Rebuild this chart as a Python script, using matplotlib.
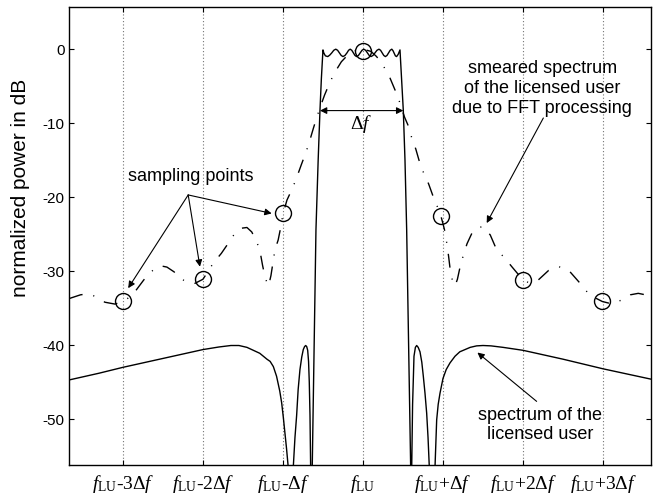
import matplotlib
matplotlib.use("Agg")
import matplotlib.pyplot as plt

# x in units of delta f around f_LU, y in dB
tick_pos = [-3, -2, -1, 0, 1, 2, 3]
tick_labels = [r"$f_{\mathrm{LU}}$-3Δ$f$", r"$f_{\mathrm{LU}}$-2Δ$f$",
               r"$f_{\mathrm{LU}}$-Δ$f$", r"$f_{\mathrm{LU}}$",
               r"$f_{\mathrm{LU}}$+Δ$f$", r"$f_{\mathrm{LU}}$+2Δ$f$",
               r"$f_{\mathrm{LU}}$+3Δ$f$"]
y_ticks = [0, -10, -20, -30, -40, -50]

# spectrum of the licensed user (solid)
lu_pos = [-3.67, -3.3, -3.0, -2.5, -2.0, -1.8, -1.65, -1.55, -1.45, -1.35,
          -1.29, -1.2, -1.16, -1.12, -1.08, -1.04, -1.016, -0.995, -0.975,
          -0.955, -0.934, -0.91, -0.9, -0.88, -0.871, -0.85, -0.829, -0.81,
          -0.7875, -0.765, -0.746, -0.73, -0.716, -0.703, -0.691, -0.68,
          -0.671, -0.662, -0.654, -0.645, -0.634, -0.61, -0.5875, -0.56,
          -0.5375, -0.52, -0.5,
          -0.49, -0.47, -0.44, -0.415, -0.39, -0.365, -0.34, -0.317, -0.295,
          -0.272, -0.25, -0.225, -0.2, -0.18, -0.16, -0.14, -0.12, -0.1,
          -0.08, -0.057, -0.035, -0.012, 0.01, 0.033, 0.055, 0.078, 0.1,
          0.125, 0.15, 0.175, 0.2, 0.22, 0.24, 0.26, 0.28, 0.3, 0.32, 0.34,
          0.36, 0.375, 0.39, 0.405, 0.42, 0.44, 0.455, 0.4625,
          0.48, 0.504, 0.525, 0.546, 0.57, 0.596, 0.603, 0.609, 0.62, 0.6375,
          0.655, 0.671, 0.69, 0.7125, 0.735, 0.754, 0.775, 0.796, 0.813,
          0.829, 0.85, 0.865, 0.885, 0.9, 0.921, 0.94, 0.9625, 1.0, 1.04,
          1.0875, 1.15, 1.21, 1.34, 1.42, 1.5, 1.6, 1.75, 2.0, 2.5, 3.0, 3.6]
lu_db = [-44.7, -43.8, -43.0, -41.8, -40.6, -40.25, -40.05, -40.05, -40.3,
         -40.8, -41.1, -41.9, -42.2, -42.9, -44.2, -46.2, -47.8, -49.8, -51.9,
         -54.0, -56.5, -62.0, -80.0, -60.0, -56.5, -52.5, -49.5, -46.0,
         -43.3, -41.6, -40.6, -40.2, -40.05, -40.2, -40.7, -42.2,
         -45.0, -49.5, -56.5, -80.0, -56.5, -40.0, -24.4, -15.0,
         -8.3, -4.0, -0.1,
         -0.5, -0.9, -1.0, -0.8, -0.5, -0.15, 0.0, -0.15, -0.5,
         -0.85, -1.0, -0.85, -0.5, -0.15, 0.0, -0.15, -0.5, -0.85,
         -1.0, -0.85, -0.5, -0.15, 0.0, -0.15, -0.5, -0.85, -1.0,
         -0.85, -0.5, -0.15, 0.0, -0.15, -0.5, -0.85, -1.0, -0.85, -0.5, -0.15,
         0.0, -0.2, -0.55, -0.9, -1.0, -0.7, -0.3, -0.1,
         -3.5, -8.3, -15.0, -24.4, -40.0, -56.5, -80.0, -56.5, -48.0, -41.5,
         -40.3, -40.05, -40.3, -40.9, -42.3, -44.2, -46.5, -49.2, -52.5,
         -56.5, -65.0, -80.0, -62.0, -56.5, -50.1, -48.0, -46.5, -44.5, -43.3,
         -42.4, -41.5, -40.9, -40.3, -40.1, -40.05, -40.1, -40.3, -40.7,
         -41.9, -43.2, -44.6]

# smeared spectrum after FFT processing (dash-dot)
fft_pos = [-3.67, -3.53, -3.43, -3.35, -3.225, -3.1, -3.0, -2.9, -2.83,
           -2.74, -2.66, -2.58, -2.52, -2.45, -2.36, -2.29, -2.2, -2.1, -2.0,
           -1.94, -1.87, -1.77, -1.7, -1.64, -1.58, -1.52, -1.45, -1.39,
           -1.33, -1.29, -1.255, -1.22, -1.18, -1.15, -1.12, -1.1, -1.06,
           -1.03, -1.0, -0.95, -0.89, -0.84, -0.77, -0.725, -0.68, -0.62,
           -0.58, -0.54, -0.48, -0.41, -0.35, -0.27, -0.2, -0.1, 0.0,
           0.1, 0.17, 0.246, 0.33, 0.4, 0.45, 0.52, 0.56, 0.61, 0.66, 0.7,
           0.76, 0.82, 0.87, 0.93, 0.975, 1.0, 1.03, 1.07, 1.09, 1.12, 1.15,
           1.18, 1.21, 1.25, 1.3, 1.36, 1.43, 1.5, 1.59, 1.67, 1.77, 1.86,
           2.0, 2.08, 2.19, 2.32, 2.45, 2.58, 2.71, 2.8, 2.9, 2.99, 3.1, 3.21,
           3.34, 3.44, 3.53, 3.6]
fft_db = [-33.7, -33.2, -33.05, -33.4, -34.2, -34.45, -34.1, -33.4, -32.5,
          -31.2, -30.2, -29.5, -29.3, -29.45, -30.1, -30.9, -31.5, -31.65,
          -31.1, -30.1, -28.9, -27.6, -26.5, -25.5, -24.6, -24.2, -24.1,
          -24.7, -26.0, -27.1, -29.2, -31.0, -32.0, -30.6, -28.5, -27.1,
          -25.8, -24.2, -22.3, -20.4, -19.0, -17.7, -15.6, -14.3, -12.9,
          -10.7, -9.3, -8.0, -6.2, -4.4, -3.1, -1.7, -0.9, -0.25, 0.0,
          -0.3, -1.0, -2.1, -3.7, -5.5, -6.9, -9.2, -10.2, -12.0, -13.5,
          -15.0, -16.8, -18.2, -19.7, -21.3, -22.6, -23.6, -24.9, -28.0,
          -29.8, -31.4, -32.0, -31.1, -29.6, -28.0, -26.3, -24.9, -24.1,
          -24.0, -25.1, -27.1, -28.2, -29.4, -31.2, -31.6, -31.2, -29.9,
          -29.4, -30.0, -31.6, -32.8, -33.6, -34.1, -34.4, -34.0, -33.2,
          -33.0, -33.2, -33.5]

# sampling points of the FFT
sample_pos = [-2.996, -1.996, -1.004, 0.0, 0.975, 2.0, 2.99]
sample_db = [-34.1, -31.1, -22.2, -0.3, -22.6, -31.2, -34.1]


def main():
    plt.rcParams["axes.unicode_minus"] = False
    plt.rcParams["font.family"] = ["Liberation Sans", "DejaVu Sans"]
    plt.rcParams["mathtext.fontset"] = "custom"
    plt.rcParams["mathtext.rm"] = "Liberation Serif"
    plt.rcParams["mathtext.it"] = "Liberation Serif:italic"

    fig = plt.figure(figsize=(6.63, 5.0), dpi=100)
    ax = fig.add_axes([0.1045, 0.07, 0.8775, 0.916])

    for x in tick_pos:
        ax.axvline(x, color="0.45", lw=0.8, ls=(0, (1, 2)), zorder=1)

    ax.plot(lu_pos, lu_db, color="k", lw=1.0, zorder=3)
    ax.plot(fft_pos, fft_db, color="k", lw=1.0,
            ls=(0, (10, 8, 0.8, 8)), zorder=3)
    ax.plot(sample_pos, sample_db, "o", ms=11.5, mfc="none", mec="k",
            mew=1.0, zorder=4)

    ax.set_xlim(-3.67, 3.6)
    ax.set_ylim(-56.2, 5.7)
    ax.set_xticks(tick_pos)
    ax.set_xticklabels(tick_labels, fontsize=14, family="Liberation Serif")
    ax.set_yticks(y_ticks)
    ax.set_yticklabels([str(v) for v in y_ticks], fontsize=11)
    ax.tick_params(direction="in", length=3.6, width=0.8, top=True,
                   right=True)
    ax.tick_params(axis="x", pad=6)
    for s in ax.spines.values():
        s.set_linewidth(1.0)

    ax.set_ylabel("normalized power in dB", fontsize=15)
    ax.yaxis.set_label_coords(-0.068, 0.604)

    arrow = dict(arrowstyle="-|>", color="k", lw=0.8, mutation_scale=10,
                 shrinkA=0, shrinkB=0)

    # bandwidth arrow
    ax.annotate("", xy=(0.504, -8.3), xytext=(-0.5375, -8.3),
                arrowprops=dict(arrowstyle="<|-|>", color="k", lw=0.8,
                                mutation_scale=10, shrinkA=0, shrinkB=0))
    ax.text(-0.025, -10.1, "Δ$f$", fontsize=14, family="Liberation Serif",
            ha="center", va="center")

    # sampling points
    ax.text(-2.15, -17.2, "sampling points", fontsize=13, ha="center",
            va="center")
    for tip in [(-2.934, -32.3), (-2.0375, -29.4), (-1.141, -22.2)]:
        ax.annotate("", xy=tip, xytext=(-2.184, -19.7), arrowprops=arrow)

    # smeared spectrum
    ax.text(2.24, -5.3,
            "smeared spectrum\nof the licensed user\ndue to FFT processing",
            fontsize=13, ha="center", va="center", linespacing=1.22)
    ax.annotate("", xy=(1.546, -23.5), xytext=(2.254, -9.3), arrowprops=arrow)

    # spectrum of the licensed user
    ax.text(2.21, -50.8, "spectrum of the\nlicensed user", fontsize=13,
            ha="center", va="center", linespacing=1.18)
    ax.annotate("", xy=(1.43, -41.0), xytext=(2.17, -47.6), arrowprops=arrow)

    fig.savefig("out.png", dpi=100)


if __name__ == "__main__":
    main()
